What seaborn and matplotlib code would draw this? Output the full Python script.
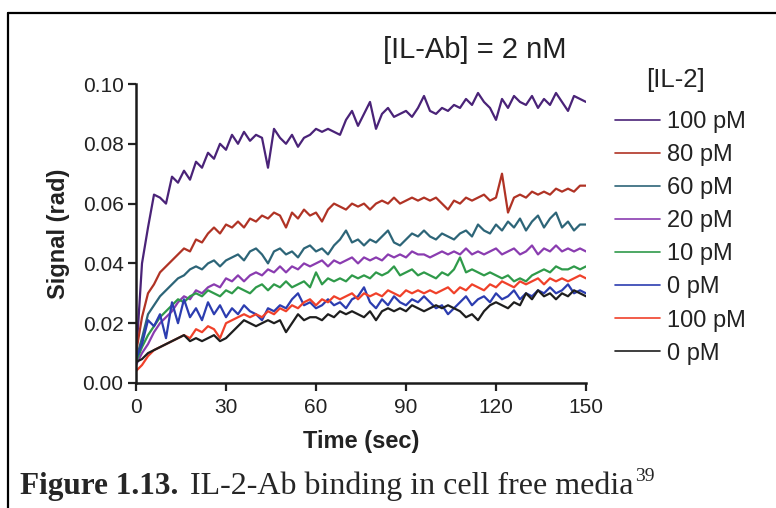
import numpy as np
import matplotlib as mpl
mpl.use('Agg')
import matplotlib.pyplot as plt
import seaborn as sns

# time axis (sec), one reading every 2 s
time_s = np.arange(0, 151, 2)

il2_100 = [0.008, 0.040, 0.052, 0.063, 0.062, 0.060, 0.069, 0.067, 0.071, 0.068,
           0.074, 0.072, 0.077, 0.075, 0.080, 0.078, 0.083, 0.080, 0.084, 0.081,
           0.083, 0.082, 0.072, 0.085, 0.082, 0.080, 0.083, 0.079, 0.082, 0.083,
           0.085, 0.084, 0.085, 0.084, 0.083, 0.088, 0.091, 0.086, 0.090, 0.094,
           0.085, 0.090, 0.092, 0.089, 0.090, 0.091, 0.089, 0.092, 0.096, 0.091,
           0.090, 0.092, 0.091, 0.093, 0.092, 0.095, 0.093, 0.097, 0.094, 0.092,
           0.088, 0.095, 0.092, 0.096, 0.094, 0.093, 0.096, 0.092, 0.095, 0.093,
           0.097, 0.094, 0.091, 0.096, 0.095, 0.094]
il2_80 = [0.010, 0.022, 0.030, 0.033, 0.037, 0.039, 0.041, 0.043, 0.045, 0.044,
          0.048, 0.047, 0.050, 0.052, 0.050, 0.053, 0.052, 0.054, 0.052, 0.055,
          0.054, 0.056, 0.055, 0.057, 0.056, 0.052, 0.057, 0.055, 0.058, 0.056,
          0.057, 0.054, 0.058, 0.060, 0.059, 0.058, 0.060, 0.059, 0.060, 0.058,
          0.060, 0.061, 0.060, 0.062, 0.060, 0.061, 0.062, 0.061, 0.062, 0.061,
          0.062, 0.060, 0.058, 0.061, 0.060, 0.062, 0.061, 0.062, 0.063, 0.061,
          0.062, 0.070, 0.057, 0.062, 0.063, 0.062, 0.064, 0.063, 0.064, 0.063,
          0.065, 0.064, 0.065, 0.064, 0.066, 0.066]
il2_60 = [0.008, 0.015, 0.023, 0.026, 0.029, 0.031, 0.033, 0.035, 0.036, 0.038,
          0.039, 0.038, 0.040, 0.041, 0.039, 0.041, 0.042, 0.043, 0.041, 0.044,
          0.045, 0.043, 0.040, 0.044, 0.045, 0.043, 0.044, 0.042, 0.045, 0.046,
          0.044, 0.045, 0.043, 0.046, 0.048, 0.051, 0.047, 0.048, 0.046, 0.048,
          0.047, 0.049, 0.051, 0.047, 0.046, 0.048, 0.050, 0.049, 0.051, 0.049,
          0.048, 0.050, 0.049, 0.048, 0.050, 0.051, 0.049, 0.053, 0.051, 0.050,
          0.053, 0.051, 0.054, 0.052, 0.055, 0.051, 0.054, 0.056, 0.052, 0.055,
          0.057, 0.052, 0.054, 0.051, 0.053, 0.053]
il2_20 = [0.006, 0.010, 0.013, 0.017, 0.020, 0.022, 0.024, 0.027, 0.029, 0.028,
          0.031, 0.030, 0.032, 0.033, 0.032, 0.035, 0.034, 0.036, 0.034, 0.036,
          0.037, 0.036, 0.038, 0.037, 0.039, 0.037, 0.039, 0.038, 0.040, 0.039,
          0.040, 0.041, 0.039, 0.041, 0.040, 0.041, 0.042, 0.040, 0.042, 0.041,
          0.042, 0.041, 0.043, 0.042, 0.043, 0.042, 0.044, 0.043, 0.043, 0.042,
          0.043, 0.044, 0.043, 0.044, 0.043, 0.045, 0.043, 0.044, 0.043, 0.044,
          0.045, 0.043, 0.044, 0.045, 0.043, 0.044, 0.046, 0.043, 0.045, 0.044,
          0.046, 0.044, 0.045, 0.044, 0.045, 0.044]
il2_10 = [0.007, 0.012, 0.016, 0.019, 0.022, 0.024, 0.026, 0.028, 0.027, 0.029,
          0.030, 0.029, 0.031, 0.030, 0.029, 0.031, 0.030, 0.032, 0.031, 0.030,
          0.032, 0.033, 0.031, 0.033, 0.032, 0.034, 0.032, 0.033, 0.034, 0.032,
          0.037, 0.033, 0.035, 0.034, 0.035, 0.034, 0.036, 0.035, 0.036, 0.035,
          0.037, 0.036, 0.037, 0.039, 0.036, 0.037, 0.038, 0.036, 0.037, 0.036,
          0.035, 0.037, 0.036, 0.038, 0.042, 0.037, 0.038, 0.037, 0.036, 0.037,
          0.036, 0.035, 0.036, 0.034, 0.035, 0.034, 0.036, 0.037, 0.038, 0.037,
          0.039, 0.038, 0.038, 0.039, 0.038, 0.039]
il2_0 = [0.008, 0.013, 0.021, 0.019, 0.023, 0.015, 0.027, 0.020, 0.028, 0.022,
         0.025, 0.021, 0.027, 0.023, 0.026, 0.022, 0.025, 0.023, 0.026, 0.024,
         0.023, 0.021, 0.025, 0.024, 0.026, 0.025, 0.028, 0.030, 0.026, 0.027,
         0.025, 0.026, 0.028, 0.026, 0.027, 0.025, 0.028, 0.029, 0.032, 0.027,
         0.025, 0.028, 0.026, 0.029, 0.027, 0.026, 0.028, 0.027, 0.029, 0.027,
         0.025, 0.026, 0.023, 0.025, 0.027, 0.029, 0.026, 0.028, 0.029, 0.027,
         0.030, 0.028, 0.029, 0.031, 0.028, 0.030, 0.029, 0.031, 0.030, 0.032,
         0.030, 0.031, 0.033, 0.030, 0.031, 0.030]
ctrl_100 = [0.004, 0.006, 0.009, 0.011, 0.012, 0.013, 0.014, 0.015, 0.016, 0.015,
            0.018, 0.017, 0.019, 0.018, 0.015, 0.020, 0.021, 0.022, 0.023, 0.022,
            0.023, 0.022, 0.024, 0.023, 0.025, 0.024, 0.026, 0.025, 0.027, 0.028,
            0.026, 0.028, 0.027, 0.029, 0.028, 0.029, 0.030, 0.028, 0.030, 0.029,
            0.030, 0.029, 0.031, 0.030, 0.029, 0.031, 0.030, 0.031, 0.030, 0.031,
            0.030, 0.031, 0.032, 0.030, 0.032, 0.031, 0.033, 0.032, 0.031, 0.033,
            0.032, 0.034, 0.033, 0.032, 0.034, 0.033, 0.034, 0.035, 0.033, 0.035,
            0.034, 0.035, 0.034, 0.035, 0.036, 0.035]
ctrl_0 = [0.007, 0.008, 0.010, 0.011, 0.012, 0.013, 0.014, 0.015, 0.016, 0.014,
          0.015, 0.014, 0.015, 0.016, 0.014, 0.015, 0.017, 0.019, 0.021, 0.020,
          0.019, 0.020, 0.021, 0.020, 0.021, 0.017, 0.020, 0.023, 0.021, 0.022,
          0.022, 0.021, 0.023, 0.022, 0.024, 0.023, 0.024, 0.023, 0.022, 0.024,
          0.021, 0.024, 0.025, 0.024, 0.025, 0.024, 0.026, 0.025, 0.024, 0.025,
          0.026, 0.025, 0.026, 0.025, 0.024, 0.022, 0.023, 0.021, 0.024, 0.026,
          0.027, 0.026, 0.025, 0.027, 0.026, 0.030, 0.028, 0.031, 0.029, 0.030,
          0.028, 0.030, 0.029, 0.031, 0.030, 0.029]

series = [il2_100, il2_80, il2_60, il2_20, il2_10, il2_0, ctrl_100, ctrl_0]
labels = ["100 pM", "80 pM", "60 pM", "20 pM", "10 pM", "0 pM", "100 pM", "0 pM"]
colors = ['#4a2378', '#b03325', '#2d6578', '#8a3cb0', '#2f9a4a', '#2c3db0', '#f0412a', '#1e1e1e']

sns.set_style("white")
plt.rcParams['font.family'] = ['Liberation Sans', 'DejaVu Sans']
txt = '#222222'

fig = plt.figure(figsize=(7.76, 5.08), dpi=100)
ax = fig.add_axes([136/776, 125/508, 450/776, 299/508])

for I in range(len(series)):
    sns.lineplot(x=time_s, y=series[I], color=colors[I], label=labels[I], lw=1.6, ax=ax)

ax.set_xlim(0, 150)
ax.set_ylim(0, 0.10)
ax.set_xticks([0, 30, 60, 90, 120, 150])
ax.set_yticks([0.00, 0.02, 0.04, 0.06, 0.08, 0.10])
ax.set_yticklabels(["0.00", "0.02", "0.04", "0.06", "0.08", "0.10"])
ax.tick_params(direction='out', length=6, width=1.6, labelsize=15, colors=txt, left=True, bottom=True)
ax.tick_params(axis='x', pad=5)
ax.tick_params(axis='y', pad=3)
for s in ('top', 'right'):
    ax.spines[s].set_visible(False)
for s in ('left', 'bottom'):
    ax.spines[s].set_linewidth(1.8)
    ax.spines[s].set_color('#1a1a1a')
ax.set_xlabel("Time (sec)", fontsize=17, fontweight='bold', color=txt, labelpad=9)
ax.set_ylabel("Signal (rad)", fontsize=17, fontweight='bold', color=txt, labelpad=9)

fig.text(475/776, 1 - 50/508, "[IL-Ab] = 2 nM", fontsize=21, color=txt, ha='center', va='center')

# legend: title placed separately to get the larger gap of the original
fig.text(676/776, 1 - 80/508, "[IL-2]", fontsize=18.5, color=txt, ha='center', va='center')
leg = ax.legend(loc='upper left', bbox_to_anchor=(615/776, 1 - 111/508), bbox_transform=fig.transFigure,
                frameon=False, fontsize=17,
                handlelength=1.9, handletextpad=0.3, labelspacing=0.47,
                borderpad=0, borderaxespad=0)
for line in leg.get_lines():
    line.set_linewidth(1.2)
for t in leg.get_texts():
    t.set_color(txt)

# border of the figure box
fig.add_artist(plt.Line2D([8/776, 1], [1 - 13/508, 1 - 13/508], transform=fig.transFigure, color='k', lw=1.6))
fig.add_artist(plt.Line2D([8/776, 8/776], [0, 1 - 13/508], transform=fig.transFigure, color='k', lw=1.6))

# caption
cap_y = 14/508
t1 = fig.text(20/776, cap_y, "Figure 1.13.", fontsize=22.5, fontweight='bold', family='Liberation Serif', va='baseline')
fig.canvas.draw()
r = fig.canvas.get_renderer()
x1 = t1.get_window_extent(r).x1
t2 = fig.text((x1 + 12)/776, cap_y, "IL-2-Ab binding in cell free media", fontsize=23, family='Liberation Serif', va='baseline')
fig.canvas.draw()
x2 = t2.get_window_extent(r).x1
fig.text((x2 + 1)/776, cap_y + 13/508, "39", fontsize=14, family='Liberation Serif', va='baseline')

fig.savefig('out.png', dpi=100)
